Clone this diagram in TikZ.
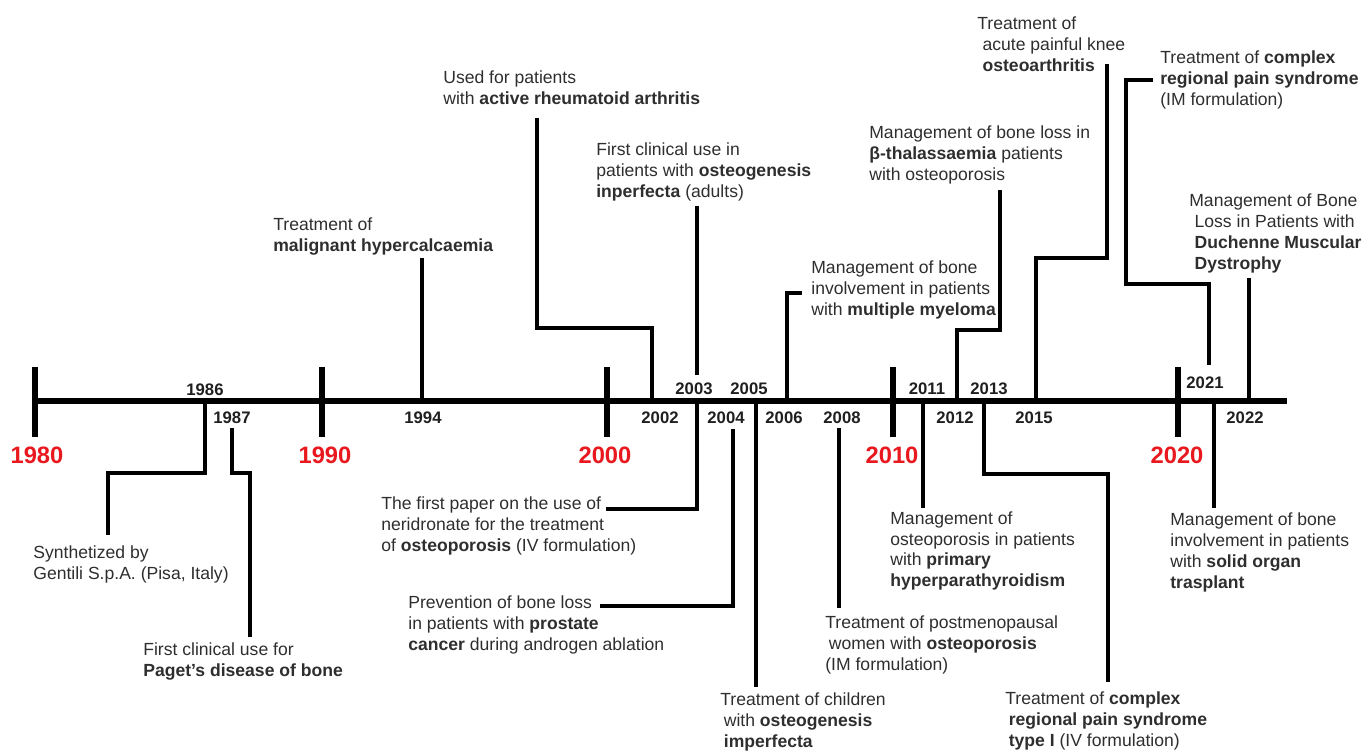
\documentclass[tikz,border=0pt]{standalone}
\usepackage{fontspec}
\setmainfont{Liberation Sans}
\usepackage{xcolor}
\usepackage{tikz}
\definecolor{decred}{RGB}{232,24,30}

\begin{document}
\begin{tikzpicture}[x=0.02cm,y=-0.02cm,
  txt/.style={anchor=west, align=left, inner sep=0pt, text=black!82, font=\fontsize{10}{11.9}\selectfont},
  yr/.style={inner sep=0pt, text=black!88, font=\fontsize{9.5}{11}\selectfont\bfseries},
  dec/.style={inner sep=0pt, text=decred, font=\fontsize{13.5}{16}\selectfont\bfseries},
  conn/.style={line width=2.6pt},
  axisline/.style={line width=2.9pt}]
\useasboundingbox (0,0) rectangle (1363,751);

% Axis
\coordinate (start) at (35,401);
\coordinate (end) at (1287,401);
\draw[axisline] (start) -- (end);

% Decades
\coordinate (a1980) at (35,401);
\coordinate (a1990) at (322,401);
\coordinate (a2000) at (607,401);
\coordinate (a2010) at (893,401);
\coordinate (a2020) at (1178,401);
\draw[axisline] (a1980) ++(0,-34) -- ++(0,70);
\draw[axisline] (a1990) ++(0,-34) -- ++(0,70);
\draw[axisline] (a2000) ++(0,-34) -- ++(0,70);
\draw[axisline] (a2010) ++(0,-34) -- ++(0,70);
\draw[axisline] (a2020) ++(0,-34) -- ++(0,70);
\node[dec] (d1980) at (37,455) {1980};
\node[dec] (d1990) at (325,455) {1990};
\node[dec] (d2000) at (605,455) {2000};
\node[dec] (d2010) at (892,455) {2010};
\node[dec] (d2020) at (1177,455) {2020};

% Years
\node[yr] (l1986) at (205,390) {1986};
\node[yr] (l1987) at (232,418) {1987};
\node[yr] (l1994) at (423,418) {1994};
\node[yr] (l2002) at (660,418) {2002};
\node[yr] (l2003) at (694,389) {2003};
\node[yr] (l2004) at (726,418) {2004};
\node[yr] (l2005) at (749,389) {2005};
\node[yr] (l2006) at (784,418) {2006};
\node[yr] (l2008) at (842,418) {2008};
\node[yr] (l2011) at (927,389) {2011};
\node[yr] (l2012) at (955,418) {2012};
\node[yr] (l2013) at (989,389) {2013};
\node[yr] (l2015) at (1034,418) {2015};
\node[yr] (l2021) at (1205,383) {2021};
\node[yr] (l2022) at (1245,418) {2022};

% Events above the axis
\node[txt] (hyperca) at (273,236.5) {Treatment of\\\textbf{malignant hypercalcaemia}};
\node[txt] (rheum) at (443,88) {Used for patients\\with \textbf{active rheumatoid arthritis}};
\node[txt] (oiAdult) at (596,172) {First clinical use in\\patients with \textbf{osteogenesis}\\\textbf{inperfecta} (adults)};
\node[txt] (myeloma) at (811,290) {Management of bone\\involvement in patients\\with \textbf{multiple myeloma}};
\node[txt] (thal) at (869,155) {Management of bone loss in\\\textbf{β-thalassaemia} patients\\with osteoporosis};
\node[txt] (knee) at (977,44) {Treatment of\\\hspace*{3pt}acute painful knee\\\hspace*{3pt}\textbf{osteoarthritis}};
\node[txt] (crpsIM) at (1160,80) {Treatment of \textbf{complex}\\\textbf{regional pain syndrome}\\(IM formulation)};
\node[txt] (dmd) at (1189,233.5) {Management of Bone\\\hspace*{3pt}Loss in Patients with\\\hspace*{3pt}\textbf{Duchenne Muscular}\\\hspace*{3pt}\textbf{Dystrophy}};

% Events below the axis
\node[txt] (synth) at (33,564) {Synthetized by\\Gentili S.p.A. (Pisa, Italy)};
\node[txt] (paget) at (143,661.5) {First clinical use for\\\textbf{Paget's disease of bone}};
\node[txt] (paper) at (381,526) {The first paper on the use of\\neridronate for the treatment\\of \textbf{osteoporosis} (IV formulation)};
\node[txt] (prostate) at (408,625) {Prevention of bone loss\\in patients with \textbf{prostate}\\\textbf{cancer} during androgen ablation};
\node[txt] (children) at (720,722) {Treatment of children\\\hspace*{2pt}with \textbf{osteogenesis}\\\hspace*{2pt}\textbf{imperfecta}};
\node[txt] (postmeno) at (825,645) {Treatment of postmenopausal\\\hspace*{2pt}women with \textbf{osteoporosis}\\(IM formulation)};
\node[txt] (hpt) at (890,551) {Management of\\osteoporosis in patients\\with \textbf{primary}\\\textbf{hyperparathyroidism}};
\node[txt] (crps1) at (1005,721) {Treatment of \textbf{complex}\\\hspace*{2pt}\textbf{regional pain syndrome}\\\hspace*{2pt}\textbf{type I} (IV formulation)};
\node[txt] (organ) at (1170,552.5) {Management of bone\\involvement in patients\\with \textbf{solid organ}\\\textbf{trasplant}};

% Connector ends
\coordinate (aSynth) at (205,401);
\coordinate (eSynth) at (108,535);
\coordinate (sPaget) at (232,428);
\coordinate (ePaget) at (250,637);
\coordinate (aHyperca) at (422,401);
\coordinate (eHyperca) at (422,258);
\coordinate (aRheum) at (652,401);
\coordinate (eRheum) at (537,118);
\coordinate (sOiAdult) at (697,375);
\coordinate (eOiAdult) at (697,206);
\coordinate (aPaper) at (697,401);
\coordinate (ePaper) at (606,509);
\coordinate (sProstate) at (733,429);
\coordinate (eProstate) at (600,606);
\coordinate (aChildren) at (756,401);
\coordinate (eChildren) at (756,687);
\coordinate (aMyeloma) at (787,401);
\coordinate (eMyeloma) at (802,293);
\coordinate (sPostmeno) at (839,428);
\coordinate (ePostmeno) at (839,608);
\coordinate (aHpt) at (923,401);
\coordinate (eHpt) at (923,508);
\coordinate (aThal) at (957,401);
\coordinate (eThal) at (1000,190);
\coordinate (aCrps) at (984,401);
\coordinate (eCrps) at (1108,682);
\coordinate (aKnee) at (1036,401);
\coordinate (eKnee) at (1107,64);
\coordinate (sCrpsIM) at (1209,365);
\coordinate (eCrpsIM) at (1153,80);
\coordinate (aOrgan) at (1214,401);
\coordinate (eOrgan) at (1214,508);
\coordinate (aDmd) at (1249,401);
\coordinate (eDmd) at (1249,278);

%Lines
\draw[conn] (aSynth) |- (108,473) -- (eSynth);
\draw[conn] (sPaget) |- (250,473) -- (ePaget);
\draw[conn] (aHyperca) -- (eHyperca);
\draw[conn] (aRheum) |- (537,328) -- (eRheum);
\draw[conn] (sOiAdult) -- (eOiAdult);
\draw[conn] (aPaper) |- (ePaper);
\draw[conn] (sProstate) |- (eProstate);
\draw[conn] (aChildren) -- (eChildren);
\draw[conn] (aMyeloma) |- (eMyeloma);
\draw[conn] (sPostmeno) -- (ePostmeno);
\draw[conn] (aHpt) -- (eHpt);
\draw[conn] (aThal) |- (1000,330) -- (eThal);
\draw[conn] (aCrps) |- (1108,474) -- (eCrps);
\draw[conn] (aKnee) |- (1107,258) -- (eKnee);
\draw[conn] (sCrpsIM) |- (1126,284) |- (eCrpsIM);
\draw[conn] (aOrgan) -- (eOrgan);
\draw[conn] (aDmd) -- (eDmd);
\end{tikzpicture}
\end{document}
